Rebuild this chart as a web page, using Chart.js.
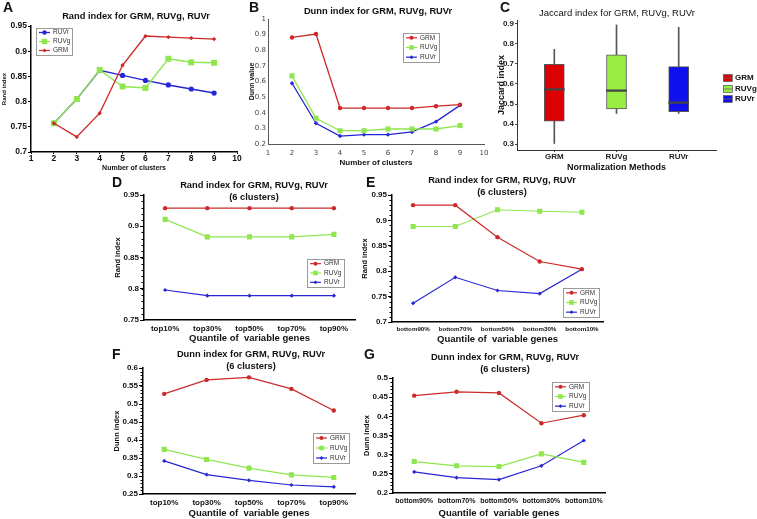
<!DOCTYPE html>
<html>
<head>
<meta charset="utf-8">
<script src="https://cdn.jsdelivr.net/npm/chart.js@4.4.1/dist/chart.umd.min.js"></script>
<style>
  html, body { margin: 0; padding: 0; background: #fff; }
  body { width: 757px; height: 519px; position: relative; overflow: hidden; }
  canvas { position: absolute; }
</style>
</head>
<body>
<canvas id="panelA"></canvas>
<canvas id="panelB"></canvas>
<canvas id="panelC"></canvas>
<canvas id="panelD"></canvas>
<canvas id="panelE"></canvas>
<canvas id="panelF"></canvas>
<canvas id="panelG"></canvas>
<script>
// ---- data ----
const clusterCounts = [2, 3, 4, 5, 6, 7, 8, 9];
const clusterTicks = [1, 10];

// A: Rand index vs number of clusters
const randGRM  = [0.757, 0.730, 0.777, 0.872, 0.930, 0.928, 0.926, 0.924];
const randRUVg = [0.757, 0.805, 0.863, 0.830, 0.827, 0.885, 0.878, 0.877];
const randRUVr = [0.757, 0.805, 0.862, 0.852, 0.842, 0.833, 0.825, 0.817];

// B: Dunn index vs number of clusters
const dunnGRM  = [0.882, 0.904, 0.430, 0.430, 0.430, 0.430, 0.442, 0.452];
const dunnRUVg = [0.636, 0.365, 0.285, 0.285, 0.296, 0.296, 0.296, 0.318];
const dunnRUVr = [0.589, 0.333, 0.251, 0.260, 0.260, 0.277, 0.343, 0.447];

// C: Jaccard index box plot
const methodNames   = ['GRM', 'RUVg', 'RUVr'];
const jaccardMin    = [0.303, 0.453, 0.453];
const jaccardQ1     = [0.415, 0.475, 0.462];
const jaccardMedian = [0.573, 0.567, 0.507];
const jaccardQ3     = [0.698, 0.745, 0.687];
const jaccardMax    = [0.773, 0.895, 0.883];

// D-G: quantiles of variable genes (6 clusters)
const topQuantiles    = ['top10%', 'top30%', 'top50%', 'top70%', 'top90%'];
const bottomQuantiles = ['bottom90%', 'bottom70%', 'bottom50%', 'bottom30%', 'bottom10%'];

const randTopGRM  = [0.929, 0.929, 0.929, 0.929, 0.929];
const randTopRUVg = [0.911, 0.883, 0.883, 0.883, 0.887];
const randTopRUVr = [0.798, 0.789, 0.789, 0.789, 0.789];

const randBottomGRM  = [0.930, 0.930, 0.867, 0.819, 0.804];
const randBottomRUVg = [0.888, 0.888, 0.921, 0.918, 0.916];
const randBottomRUVr = [0.737, 0.788, 0.762, 0.756, 0.804];

const dunnTopGRM  = [0.528, 0.567, 0.574, 0.542, 0.482];
const dunnTopRUVg = [0.374, 0.346, 0.322, 0.303, 0.296];
const dunnTopRUVr = [0.342, 0.304, 0.288, 0.275, 0.270];

const dunnBottomGRM  = [0.454, 0.464, 0.461, 0.382, 0.403];
const dunnBottomRUVg = [0.282, 0.271, 0.269, 0.302, 0.280];
const dunnBottomRUVr = [0.255, 0.240, 0.235, 0.271, 0.337];

// ---- styling ----
const FONT = '"Liberation Sans", Arial, Helvetica, sans-serif';
const RED = '#cc2a2a', GREEN = '#8fe64f', BLUE = '#2626d6';
const boxColors = ['#dd0000', '#99ee44', '#1010ee'];

Chart.defaults.font.family = FONT;
Chart.defaults.animation = false;
Chart.defaults.plugins.legend.display = false;
Chart.defaults.plugins.tooltip.enabled = false;

const font = (size, weight) => ({ family: FONT, size, weight: weight || 'normal' });
// tick labels without trailing zeros: 0.9, 0.95, 1
const trim = v => String(Math.round(v * 100) / 100);

// panel letter + multi-line title
const panelText = {
  id: 'panelText',
  afterDraw(chart, args, o) {
    const ctx = chart.ctx;
    ctx.save();
    ctx.fillStyle = '#111';
    ctx.textBaseline = 'middle';
    if (o.letter) {
      ctx.font = `bold 14px ${FONT}`;
      ctx.textAlign = 'left';
      ctx.fillText(o.letter[0], o.letter[1], o.letter[2]);
    }
    if (o.title) {
      ctx.font = o.titleFont || `bold 9.3px ${FONT}`;
      ctx.textAlign = 'center';
      o.title.forEach((line, i) => ctx.fillText(line, o.titleX, o.titleY + i * 12));
    }
    ctx.restore();
  }
};

// small ticks between the labelled ones on the y axis
const minorTicks = {
  id: 'minorTicks',
  afterDraw(chart, args, o) {
    if (!o.step) return;
    const s = chart.scales.y, ctx = chart.ctx;
    const n = Math.round((s.max - s.min) / o.step);
    ctx.save();
    ctx.strokeStyle = '#000';
    ctx.lineWidth = 1;
    for (let i = 0; i <= n; i++) {
      const py = Math.round(s.getPixelForValue(s.min + i * o.step)) + 0.5;
      ctx.beginPath();
      ctx.moveTo(s.right - 2.5, py);
      ctx.lineTo(s.right, py);
      ctx.stroke();
    }
    ctx.restore();
  }
};

// framed legend with line + marker samples
const boxLegend = {
  id: 'boxLegend',
  afterDraw(chart, args, o) {
    if (!o.box) return;
    const [x, y, w, h] = o.box;
    const ctx = chart.ctx;
    const sets = chart.data.datasets;
    const rowH = h / sets.length;
    ctx.save();
    ctx.fillStyle = '#fff';
    ctx.fillRect(x, y, w, h);
    ctx.strokeStyle = '#9a9a9a';
    ctx.lineWidth = 1;
    ctx.strokeRect(x + 0.5, y + 0.5, w, h);
    sets.forEach((ds, i) => {
      const cy = y + rowH * (i + 0.5);
      ctx.strokeStyle = ds.borderColor;
      ctx.lineWidth = 1.2;
      ctx.beginPath();
      ctx.moveTo(x + 3, cy);
      ctx.lineTo(x + 14, cy);
      ctx.stroke();
      ctx.fillStyle = ds.borderColor;
      Chart.helpers.drawPoint(ctx, { pointStyle: ds.pointStyle, radius: ds.pointRadius * 0.9, rotation: 0, borderWidth: 0 }, x + 8.5, cy);
      ctx.fillStyle = '#333';
      ctx.font = `6.5px ${FONT}`;
      ctx.textAlign = 'left';
      ctx.textBaseline = 'middle';
      ctx.fillText(ds.label, x + 17, cy);
    });
    ctx.restore();
  }
};

// ggplot-style fill keys for the box plot
const keyLegend = {
  id: 'keyLegend',
  afterDraw(chart, args, o) {
    if (!o.x) return;
    const ctx = chart.ctx;
    ctx.save();
    methodNames.forEach((name, i) => {
      const cy = o.ys[i];
      ctx.fillStyle = boxColors[i];
      ctx.fillRect(o.x, cy - 3.5, 9, 7);
      ctx.strokeStyle = '#666';
      ctx.lineWidth = 0.8;
      ctx.strokeRect(o.x + 0.5, cy - 3.5, 9, 7);
      ctx.beginPath();
      ctx.moveTo(o.x, cy);
      ctx.lineTo(o.x + 9.5, cy);
      ctx.stroke();
      ctx.fillStyle = '#111';
      ctx.font = `bold 8px ${FONT}`;
      ctx.textBaseline = 'middle';
      ctx.fillText(name, o.x + 12, cy);
    });
    ctx.restore();
  }
};

Chart.register(panelText, minorTicks, boxLegend, keyLegend);

function place(id, left, top, width, height) {
  const c = document.getElementById(id);
  c.width = width; c.height = height;
  c.style.left = left + 'px'; c.style.top = top + 'px';
  return c;
}

function lineSeries(label, data, color, style, radius, width, order) {
  return {
    label, data, order,
    borderColor: color, backgroundColor: color,
    pointBackgroundColor: color, pointBorderColor: color, pointBorderWidth: 0,
    pointStyle: style, pointRadius: radius, pointHoverRadius: radius,
    borderWidth: width, tension: 0
  };
}

const pairs = values => clusterCounts.map((c, i) => ({ x: c, y: values[i] }));

// ---- A ----
new Chart(place('panelA', 0, 0, 250, 172), {
  type: 'line',
  data: {
    datasets: [
      lineSeries('RUVr', pairs(randRUVr), BLUE, 'circle', 2.6, 1.4, 2),
      lineSeries('RUVg', pairs(randRUVg), GREEN, 'rect', 4.2, 1.4, 1),
      lineSeries('GRM', pairs(randGRM), RED, 'rectRot', 2.2, 1.4, 0)
    ]
  },
  options: {
    responsive: false, devicePixelRatio: 1,
    layout: { padding: { left: 1, top: 26, right: 13, bottom: 0 } },
    scales: {
      x: {
        type: 'linear', min: clusterTicks[0], max: clusterTicks[1],
        ticks: { stepSize: 1, font: font(8.5, 'bold'), color: '#111', padding: 0 },
        grid: { drawOnChartArea: false, tickLength: 2, color: '#000' },
        border: { color: '#000', width: 1.5 },
        title: { display: true, text: 'Number of clusters', font: font(7, 'bold'), color: '#111', padding: 0 },
        afterFit: s => { s.height = 20; }
      },
      y: {
        min: 0.7, max: 0.95,
        ticks: { stepSize: 0.05, callback: trim, font: font(8.5, 'bold'), color: '#111', padding: 1 },
        grid: { drawOnChartArea: false, tickLength: 3, color: '#000' },
        border: { color: '#000', width: 1.5 },
        title: { display: true, text: 'Rand index', font: font(6, 'bold'), color: '#111', padding: 0 },
        afterFit: s => { s.width = 30; }
      }
    },
    plugins: {
      panelText: { letter: ['A', 3, 8], title: ['Rand index for GRM, RUVg, RUVr'], titleX: 136, titleY: 16 },
      boxLegend: { box: [36, 28, 36, 27] }
    }
  }
});

// ---- B ----
new Chart(place('panelB', 248, 0, 252, 168), {
  type: 'line',
  data: {
    datasets: [
      lineSeries('GRM', pairs(dunnGRM), RED, 'circle', 2.2, 1.3),
      lineSeries('RUVg', pairs(dunnRUVg), GREEN, 'rect', 3.6, 1.3),
      lineSeries('RUVr', pairs(dunnRUVr), BLUE, 'rectRot', 2.2, 1.3)
    ]
  },
  options: {
    responsive: false, devicePixelRatio: 1,
    layout: { padding: { left: 0, top: 19, right: 16, bottom: 0 } },
    scales: {
      x: {
        type: 'linear', min: clusterTicks[0], max: clusterTicks[1],
        ticks: { stepSize: 1, font: { family: '"DejaVu Sans", sans-serif', size: 7 }, color: '#444', padding: 5 },
        grid: { drawOnChartArea: false, drawTicks: false },
        border: { color: '#555', width: 1 },
        title: { display: true, text: 'Number of clusters', font: font(8, 'bold'), color: '#111', padding: 0 },
        afterFit: s => { s.height = 24; }
      },
      y: {
        min: 0.2, max: 1,
        ticks: { stepSize: 0.1, callback: trim, font: { family: '"DejaVu Sans", sans-serif', size: 7 }, color: '#444', padding: 2 },
        grid: { drawOnChartArea: false, drawTicks: false },
        border: { color: '#555', width: 1 },
        title: { display: true, text: 'Dunn value', font: font(7, 'bold'), color: '#111', padding: 0 },
        afterFit: s => { s.width = 20; }
      }
    },
    plugins: {
      panelText: { letter: ['B', 1, 8], title: ['Dunn index for GRM, RUVg, RUVr'], titleX: 130, titleY: 11 },
      boxLegend: { box: [155, 33, 36, 29] }
    }
  }
});

// ---- C ----
const boxAt = (lo, hi) => methodNames.map((_, i) => ({ x: i + 1, y: [lo[i], hi[i]] }));
const medianLo = jaccardMedian.map(v => v - 0.004);
const medianHi = jaccardMedian.map(v => v + 0.004);

new Chart(place('panelC', 496, 0, 261, 173), {
  type: 'bar',
  data: {
    datasets: [
      { label: 'median', data: boxAt(medianLo, medianHi), backgroundColor: '#444', barThickness: 20, grouped: false },
      { label: 'box', data: boxAt(jaccardQ1, jaccardQ3), backgroundColor: boxColors, borderColor: '#555',
        borderWidth: 1, borderSkipped: false, barThickness: 20, grouped: false },
      { label: 'whisker', data: boxAt(jaccardMin, jaccardMax), backgroundColor: '#555', barThickness: 1, grouped: false }
    ]
  },
  options: {
    responsive: false, devicePixelRatio: 1,
    layout: { padding: { left: 0, top: 20, right: 41, bottom: 0 } },
    scales: {
      x: {
        type: 'linear', min: 0.4, max: 3.6, offset: false,
        afterBuildTicks: s => { s.ticks = methodNames.map((_, i) => ({ value: i + 1 })); },
        ticks: { callback: v => methodNames[v - 1], font: font(8, 'bold'), color: '#222', padding: 0 },
        grid: { drawOnChartArea: false, tickLength: 2, color: '#444', offset: false },
        border: { color: '#333', width: 1 },
        title: { display: true, text: 'Normalization Methods', font: font(9, 'bold'), color: '#111', padding: 0 },
        afterFit: s => { s.height = 23; }
      },
      y: {
        min: 0.2705, max: 0.9195,
        ticks: { stepSize: 0.1, includeBounds: false, callback: trim, font: font(8, 'bold'), color: '#222', padding: 1 },
        grid: { drawOnChartArea: false, tickLength: 2, color: '#444' },
        border: { color: '#333', width: 1 },
        title: { display: true, text: 'Jaccard index', font: font(9, 'bold'), color: '#111', padding: 0 },
        afterFit: s => { s.width = 21; }
      }
    },
    plugins: {
      panelText: { letter: ['C', 4, 8], title: ['Jaccard index for GRM, RUVg, RUVr'], titleX: 121, titleY: 13,
                   titleFont: `9.5px ${FONT}` },
      keyLegend: { x: 227, ys: [78, 89, 99] }
    }
  }
});

// ---- D to G share one layout ----
function quantilePanel(id, pos, labels, grm, ruvg, ruvr, cfg) {
  new Chart(place(id, pos[0], pos[1], pos[2], pos[3]), {
    type: 'line',
    data: {
      labels,
      datasets: [
        lineSeries('GRM', grm, RED, 'circle', 2.2, 1.2),
        lineSeries('RUVg', ruvg, GREEN, 'rect', 3.6, 1.2),
        lineSeries('RUVr', ruvr, BLUE, 'rectRot', 2.1, 1.2)
      ]
    },
    options: {
      responsive: false, devicePixelRatio: 1,
      layout: { padding: cfg.pad },
      scales: {
        x: {
          offset: true,
          ticks: { font: font(cfg.xTickSize, 'bold'), color: '#111', padding: 4, maxRotation: 0, autoSkip: false },
          grid: { drawOnChartArea: false, drawTicks: false, offset: true },
          border: { color: '#000', width: 1.5 },
          title: { display: true, text: 'Quantile of  variable genes', font: font(9.5, 'bold'), color: '#111', padding: 0 },
          afterFit: s => { s.height = cfg.xHeight; }
        },
        y: {
          min: cfg.yMin, max: cfg.yMax,
          ticks: { stepSize: 0.05, callback: trim, font: font(8, 'bold'), color: '#111', padding: 1 },
          grid: { drawOnChartArea: false, tickLength: 4, color: '#000' },
          border: { color: '#000', width: 1.5 },
          title: { display: true, text: cfg.yTitle, font: font(7.5, 'bold'), color: '#111', padding: 0 },
          afterFit: s => { s.width = cfg.yWidth; }
        }
      },
      plugins: {
        panelText: { letter: cfg.letter, title: [cfg.title, '(6 clusters)'], titleX: cfg.titleX, titleY: cfg.titleY },
        minorTicks: { step: 0.01 },
        boxLegend: { box: cfg.legend }
      }
    }
  });
}

quantilePanel('panelD', [100, 175, 270, 169], topQuantiles, randTopGRM, randTopRUVg, randTopRUVr, {
  pad: { left: 13, top: 20, right: 15, bottom: 0 }, yWidth: 31, xHeight: 24, xTickSize: 8,
  yMin: 0.75, yMax: 0.95, yTitle: 'Rand index', title: 'Rand index for GRM, RUVg, RUVr',
  titleX: 154, titleY: 10, letter: ['D', 12, 8.5], legend: [207, 84, 37, 28]
});

quantilePanel('panelE', [350, 175, 270, 170], bottomQuantiles, randBottomGRM, randBottomRUVg, randBottomRUVr, {
  pad: { left: 10, top: 20, right: 17, bottom: 0 }, yWidth: 32, xHeight: 23, xTickSize: 6.2,
  yMin: 0.7, yMax: 0.95, yTitle: 'Rand index', title: 'Rand index for GRM, RUVg, RUVr',
  titleX: 152, titleY: 5, letter: ['E', 16, 8.5], legend: [213, 113, 36, 29]
});

quantilePanel('panelF', [100, 345, 270, 174], topQuantiles, dunnTopGRM, dunnTopRUVg, dunnTopRUVr, {
  pad: { left: 12, top: 23, right: 15, bottom: 0 }, yWidth: 31, xHeight: 25, xTickSize: 8,
  yMin: 0.25, yMax: 0.6, yTitle: 'Dunn index', title: 'Dunn index for GRM, RUVg, RUVr',
  titleX: 151, titleY: 9, letter: ['F', 12, 10.5], legend: [213, 88, 36, 30]
});

quantilePanel('panelG', [350, 345, 270, 174], bottomQuantiles, dunnBottomGRM, dunnBottomRUVg, dunnBottomRUVr, {
  pad: { left: 12, top: 33, right: 15, bottom: 0 }, yWidth: 31, xHeight: 26, xTickSize: 7,
  yMin: 0.2, yMax: 0.5, yTitle: 'Dunn index', title: 'Dunn index for GRM, RUVg, RUVr',
  titleX: 155, titleY: 12, letter: ['G', 14, 10.5], legend: [202, 37, 37, 29]
});
</script>
</body>
</html>
